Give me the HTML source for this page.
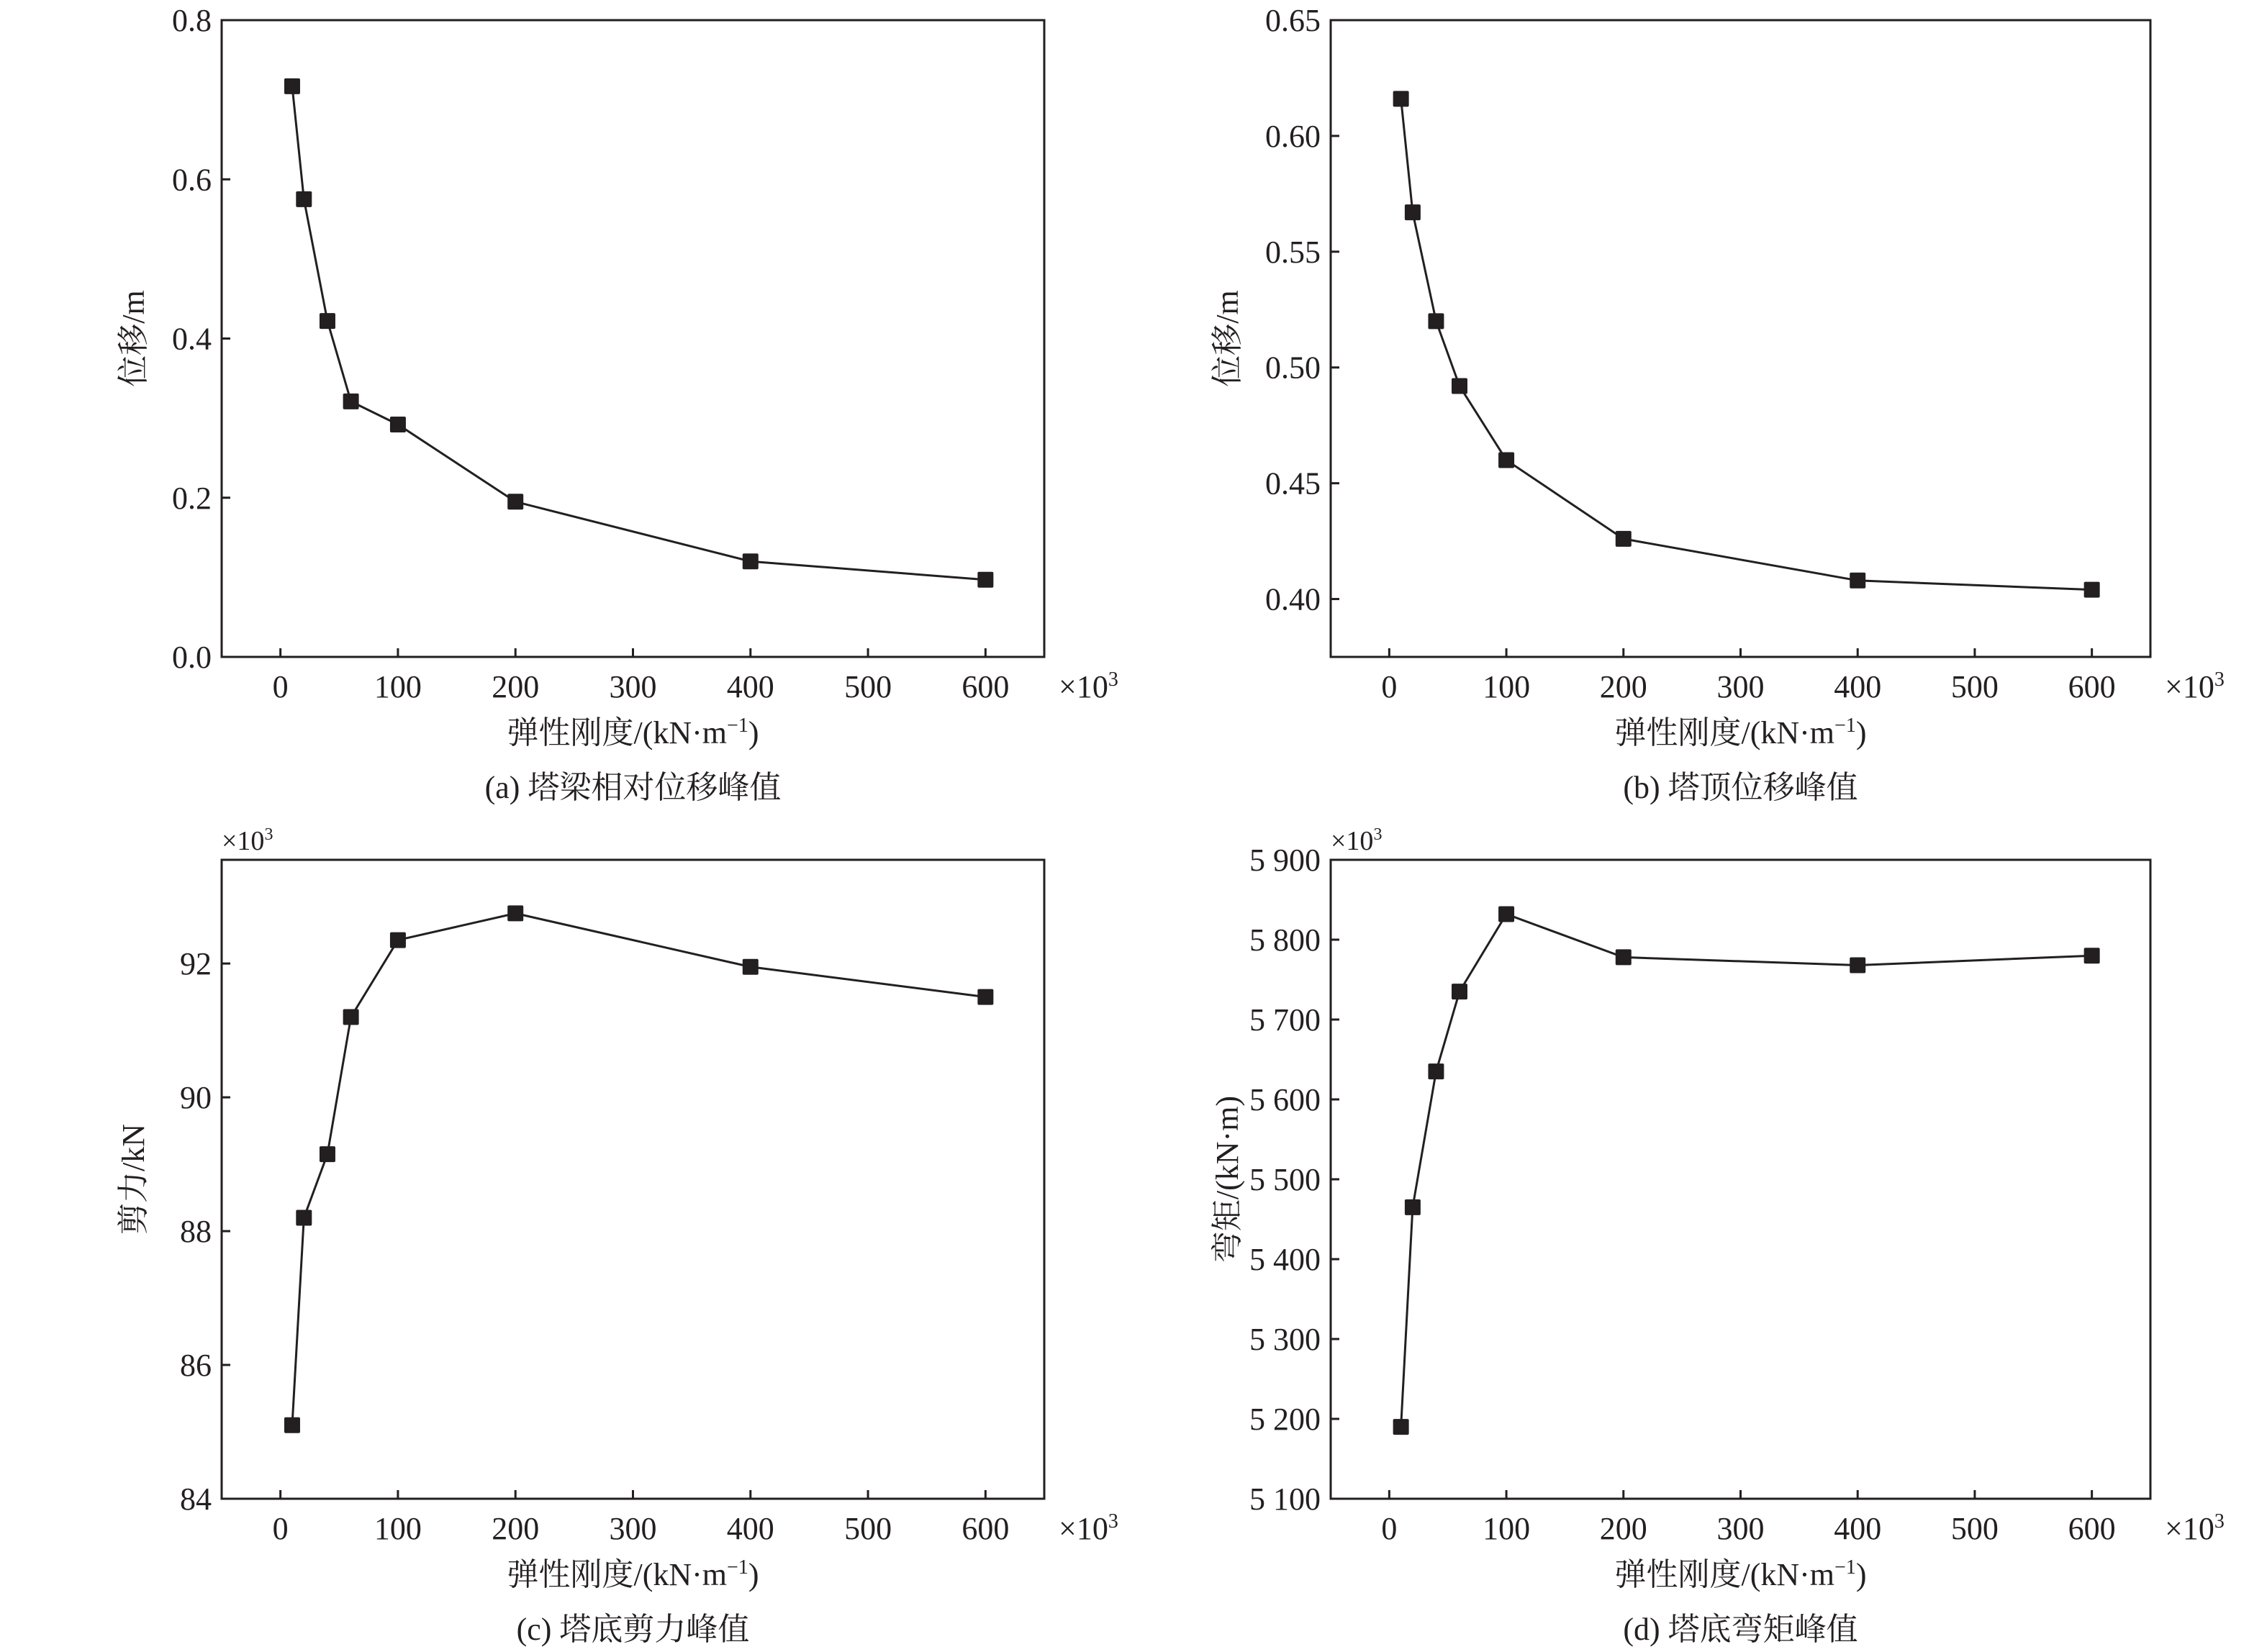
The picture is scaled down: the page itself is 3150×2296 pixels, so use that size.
<!DOCTYPE html>
<html><head><meta charset="utf-8">
<style>
html,body{margin:0;padding:0;background:#fff;}
svg{display:block;}
text{font-family:"Liberation Serif","Noto Serif CJK SC",serif;fill:#231f20;}
</style></head>
<body>
<svg id="chart" width="3150" height="2296" viewBox="0 0 3150 2296" xmlns="http://www.w3.org/2000/svg"></svg>
<script>
const stiffness = [10, 20, 40, 60, 100, 200, 400, 600];
const xTicks = [0, 100, 200, 300, 400, 500, 600];
const dispA = [0.717, 0.575, 0.422, 0.321, 0.292, 0.195, 0.120, 0.097];
const dispB = [0.616, 0.567, 0.520, 0.492, 0.460, 0.426, 0.408, 0.404];
const shearC = [85.1, 88.2, 89.15, 91.2, 92.35, 92.75, 91.95, 91.5];
const momentD = [5190, 5465, 5635, 5735, 5832, 5778, 5768, 5780];
const yTicksA = [0.0, 0.2, 0.4, 0.6, 0.8];
const yTickLabelsA = ["0.0", "0.2", "0.4", "0.6", "0.8"];
const yTicksB = [0.40, 0.45, 0.50, 0.55, 0.60, 0.65];
const yTickLabelsB = ["0.40", "0.45", "0.50", "0.55", "0.60", "0.65"];
const yTicksC = [84, 86, 88, 90, 92];
const yTickLabelsC = ["84", "86", "88", "90", "92"];
const yTicksD = [5100, 5200, 5300, 5400, 5500, 5600, 5700, 5800, 5900];
const yTickLabelsD = ["5 100", "5 200", "5 300", "5 400", "5 500", "5 600", "5 700", "5 800", "5 900"];

const NS = "http://www.w3.org/2000/svg";
const svg = document.getElementById("chart");
function mk(tag, attrs, parent) {
  const e = document.createElementNS(NS, tag);
  for (const k in attrs) e.setAttribute(k, attrs[k]);
  (parent || svg).appendChild(e);
  return e;
}
const FS = 44;

function panel(cfg) {
  const g = mk("g", {});
  
  
  const L = cfg.x0, R = cfg.x1, T = cfg.y0, B = cfg.y1;
  const xs = v => L + (v - (-50)) / 700 * (R - L);
  const ys = v => B - (v - cfg.ymin) / (cfg.ymax - cfg.ymin) * (B - T);
  const frame = mk("rect", {x: L, y: T, width: R - L, height: B - T, fill: "none", stroke: "#231f20", "stroke-width": 3}, g);
  
  
  xTicks.forEach(t => {
    const x = xs(t);
    const tk = mk("line", {x1: x, x2: x, y1: B, y2: B - 12, stroke: "#231f20", "stroke-width": 3}, g);
    
    
    const tl = mk("text", {x: x, y: B + 56, "font-size": FS, "text-anchor": "middle"}, g);
    tl.textContent = String(t);
    
    
  });
  const xm = mk("text", {x: R + 20, y: B + 56, "font-size": FS}, g);
  xm.innerHTML = '×10<tspan font-size="28" dy="-16">3</tspan>';
  
  
  cfg.yTicks.forEach((t, i) => {
    const y = ys(t);
    const tk = mk("line", {x1: L, x2: L + 12, y1: y, y2: y, stroke: "#231f20", "stroke-width": 3}, g);
    
    
    const tl = mk("text", {x: L - 14, y: y + 15, "font-size": FS, "text-anchor": "end"}, g);
    tl.textContent = cfg.yLabels[i];
    
    
  });
  if (cfg.ymult) {
    const ym = mk("text", {x: L, y: T - 14, "font-size": 38}, g);
    ym.innerHTML = '×10<tspan font-size="24" dy="-14">3</tspan>';
    
    
  }
  const pts = stiffness.map((s, i) => xs(s) + "," + ys(cfg.values[i])).join(" ");
  const line = mk("polyline", {points: pts, fill: "none", stroke: "#231f20", "stroke-width": 3}, g);
  
  
  stiffness.forEach((s, i) => {
    const m = mk("rect", {x: xs(s) - 11, y: ys(cfg.values[i]) - 11, width: 22, height: 22, rx: 2, fill: "#231f20"}, g);
    
    
  });
  const cx = (L + R) / 2;
  const xt = mk("text", {x: cx, y: B + 120, "font-size": FS, "text-anchor": "middle"}, g);
  xt.innerHTML = '弹性刚度/(kN·m<tspan font-size="28" dy="-16">−1</tspan><tspan dy="16">)</tspan>';
  
  
  const yx = cfg.ytitleX, yy = (T + B) / 2;
  const yt = mk("text", {x: yx, y: yy, "font-size": FS, "text-anchor": "middle", transform: "rotate(-90 " + yx + " " + yy + ")"}, g);
  yt.textContent = cfg.ytitle;
  
  
  const cap = mk("text", {x: cx, y: B + 196, "font-size": FS, "text-anchor": "middle"}, g);
  cap.textContent = cfg.caption;
  
  
}

panel({name: "panel-a", x0: 308, x1: 1451, y0: 28, y1: 913, ymin: 0, ymax: 0.8, yTicks: yTicksA, yLabels: yTickLabelsA, values: dispA, ytitle: "位移/m", ytitleX: 200, caption: "(a) 塔梁相对位移峰值"});
panel({name: "panel-b", x0: 1849, x1: 2988, y0: 28, y1: 913, ymin: 0.375, ymax: 0.65, yTicks: yTicksB, yLabels: yTickLabelsB, values: dispB, ytitle: "位移/m", ytitleX: 1720, caption: "(b) 塔顶位移峰值"});
panel({name: "panel-c", x0: 308, x1: 1451, y0: 1195, y1: 2083, ymin: 84, ymax: 93.55, yTicks: yTicksC, yLabels: yTickLabelsC, values: shearC, ytitle: "剪力/kN", ytitleX: 200, caption: "(c) 塔底剪力峰值", ymult: true});
panel({name: "panel-d", x0: 1849, x1: 2988, y0: 1195, y1: 2083, ymin: 5100, ymax: 5900, yTicks: yTicksD, yLabels: yTickLabelsD, values: momentD, ytitle: "弯矩/(kN·m)", ytitleX: 1720, caption: "(d) 塔底弯矩峰值", ymult: true});
</script>
</body></html>
